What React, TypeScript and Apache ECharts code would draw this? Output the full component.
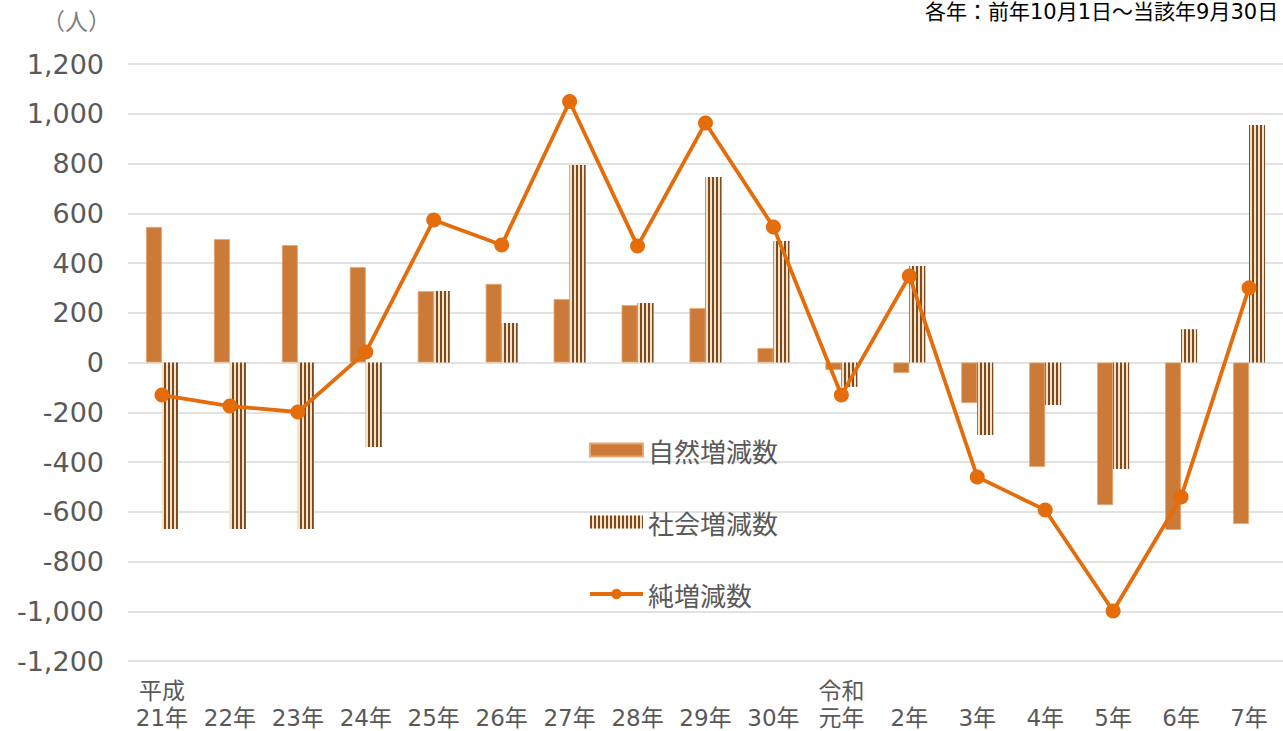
import React, { useEffect, useRef } from "react";
import * as echarts from "echarts";

const categories = ["平成\n21年", "\n22年", "\n23年", "\n24年", "\n25年", "\n26年", "\n27年", "\n28年", "\n29年", "\n30年", "令和\n元年", "\n2年", "\n3年", "\n4年", "\n5年", "\n6年", "\n7年"];
const naturalChange = [545, 496, 472, 384, 287, 316, 255, 231, 219, 58, -30, -42, -163, -420, -573, -673, -649];
const socialChange = [-669, -669, -669, -340, 287, 159, 794, 239, 746, 488, -98, 388, -291, -171, -428, 134, 955];
const netChange = [-131, -175, -199, 42, 573, 472, 1049, 468, 963, 545, -131, 348, -460, -593, -999, -541, 300];
const seriesNames = ["自然増減数", "社会増減数", "純増減数"];
const yTicks = { min: -1200, max: 1200, interval: 200 };

const FONT = "'DejaVu Sans', 'Noto Sans CJK JP', sans-serif";
const CJK = "'Noto Sans CJK JP', sans-serif";
const TEXT = "#595959";

export default function App() {
  const ref = useRef<HTMLDivElement>(null);
  useEffect(() => {
    if (!ref.current) return;
    const chart = echarts.init(ref.current, undefined, { renderer: "svg" });
    chart.setOption({
      animation: false,
      textStyle: { fontFamily: FONT },
      grid: { left: 128, right: -6, top: 64, bottom: 70, containLabel: false },
      legend: {
        orient: "vertical",
        left: 583,
        top: 432,
        itemWidth: 53,
        itemHeight: 13,
        itemGap: 46,
        itemTextGap: 6,
        textStyle: { fontSize: 26, color: TEXT, fontFamily: CJK },
        data: [
          { name: seriesNames[0], icon: "rect" },
          { name: seriesNames[1], icon: "rect" },
          { name: seriesNames[2], lineStyle: { width: 4 } },
        ],
      },
      xAxis: {
        type: "category",
        data: categories,
        axisLine: { show: false },
        axisTick: { show: false },
        axisLabel: { interval: 0, fontSize: 23, color: TEXT, lineHeight: 27, margin: 16, fontFamily: FONT },
      },
      yAxis: {
        type: "value",
        min: yTicks.min,
        max: yTicks.max,
        interval: yTicks.interval,
        axisLine: { show: false },
        axisTick: { show: false },
        splitLine: { lineStyle: { color: "#D9D9D9", width: 1.5 } },
        axisLabel: {
          fontSize: 27,
          color: TEXT,
          margin: 24,
          fontFamily: FONT,
          formatter: (v: number) => v.toLocaleString("en-US"),
        },
      },
      graphic: [
        { type: "text", left: 42, top: 8, style: { text: "（人）", fontSize: 23, fill: "#7F7F7F", fontFamily: CJK } },
        { type: "text", left: 925, top: 1, style: { text: "各年：前年10月1日～当該年9月30日", fontSize: 21, fill: "#000", fontFamily: FONT } },
      ],
      series: [
        {
          name: seriesNames[0],
          type: "bar",
          data: naturalChange,
          barWidth: 16,
          barGap: "0%",
          itemStyle: { color: "#CC7A38", borderColor: "#E8A870", borderWidth: 0.8 },
        },
        {
          name: seriesNames[1],
          type: "bar",
          data: socialChange,
          barWidth: 16,
          barGap: "0%",
          itemStyle: {
            color: "#F4E4CE",
            decal: {
              symbol: "rect",
              symbolSize: 1,
              color: "#7E4A1E",
              dashArrayX: [2, 2],
              dashArrayY: [1, 0],
              rotation: 0,
            },
          },
        },
        {
          name: seriesNames[2],
          type: "line",
          data: netChange,
          symbol: "circle",
          symbolSize: 15,
          z: 5,
          lineStyle: { color: "#E46C0A", width: 3.8 },
          itemStyle: { color: "#E46C0A" },
        },
      ],
    });
    return () => chart.dispose();
  }, []);
  return <div ref={ref} style={{ position: "absolute", left: 0, top: 0, width: 1283, height: 731 }} />;
}
